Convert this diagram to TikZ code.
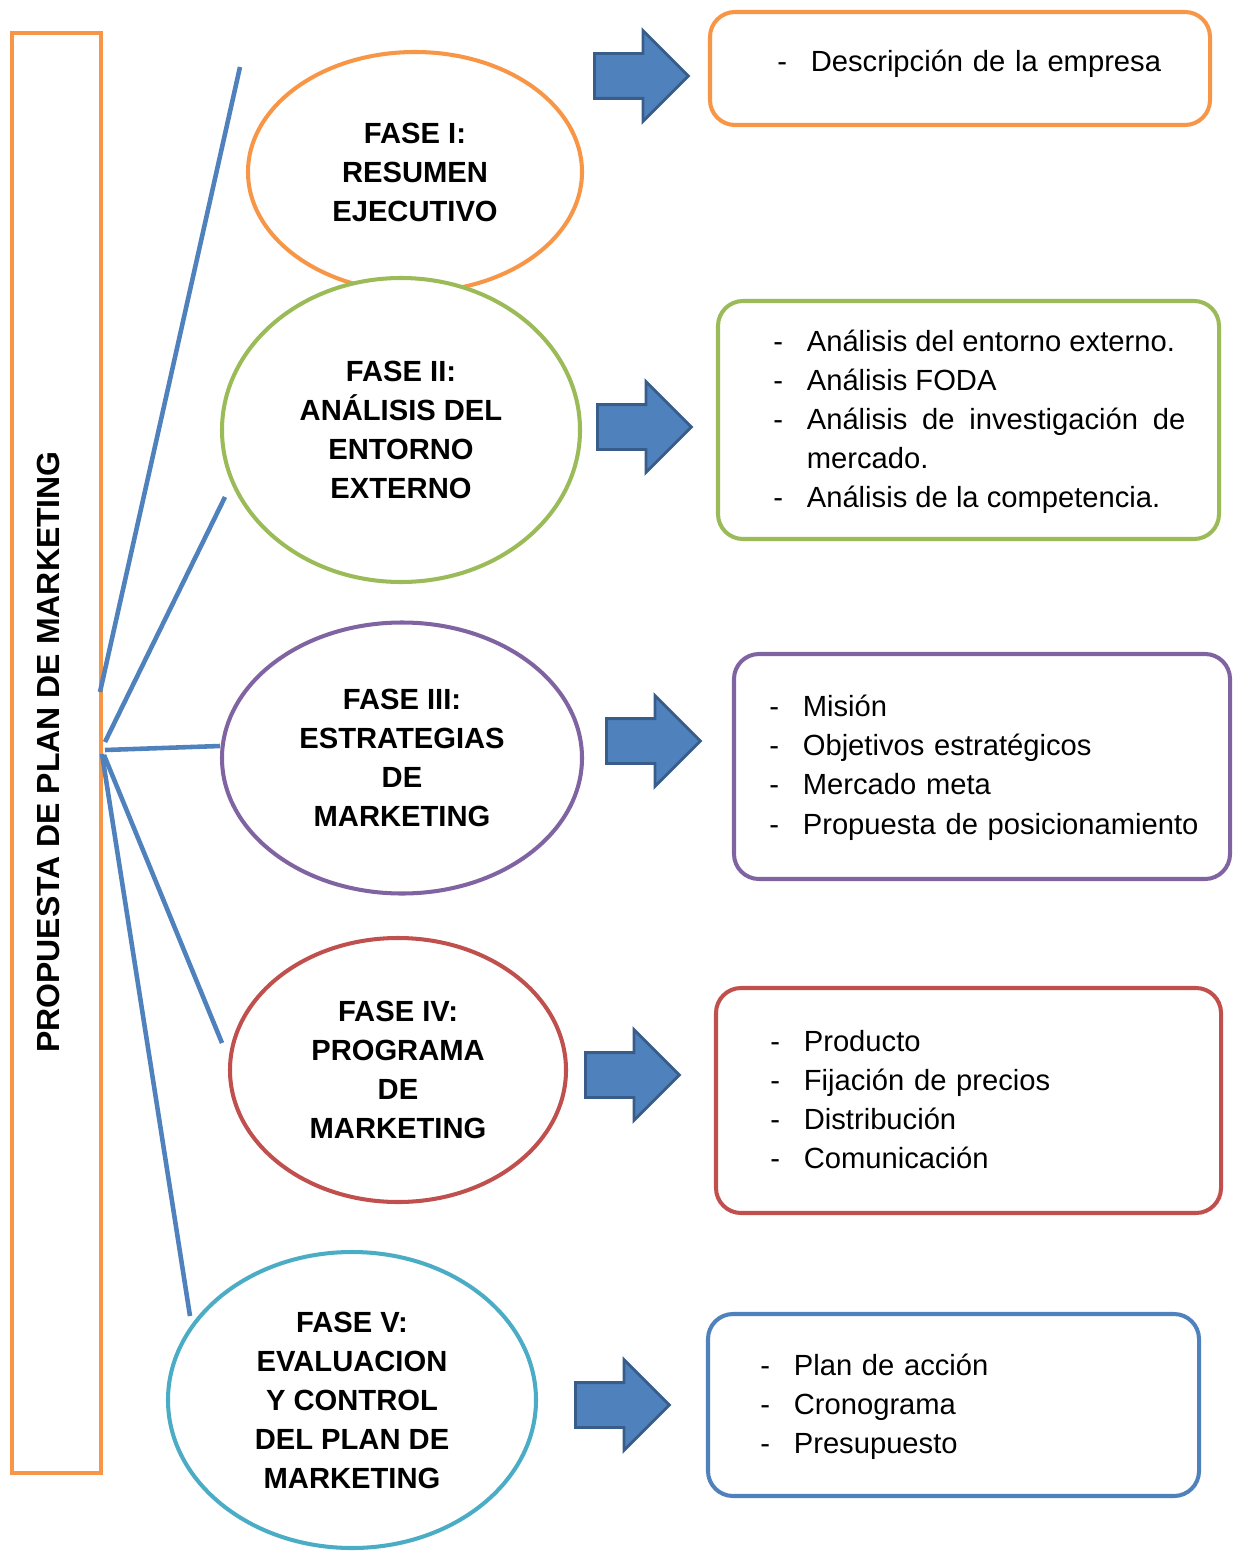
\documentclass[tikz,border=0pt]{standalone}
\usepackage{fontspec}
\setmainfont{Liberation Sans}
\usetikzlibrary{shapes.geometric,shapes.arrows}
\definecolor{naranja}{HTML}{F79646}
\definecolor{verde}{HTML}{9BBB59}
\definecolor{morado}{HTML}{8064A2}
\definecolor{rojo}{HTML}{C0504D}
\definecolor{celeste}{HTML}{4BACC6}
\definecolor{azul}{HTML}{4F81BD}
\definecolor{azulosc}{HTML}{385D8A}
\newcommand{\guion}[1]{\par\noindent\hangindent=6.7mm\hangafter=1\makebox[6.7mm][l]{-}#1}
\tikzset{
  fase/.style   = {ellipse, draw, line width=2.3pt, fill=white, align=center,
                   inner sep=0pt, font=\fontsize{16.6}{22.2}\selectfont\bfseries},
  caja/.style   = {rectangle, rounded corners=5mm, draw, line width=2.3pt, fill=white},
  lista/.style  = {anchor=west, inner sep=0pt, text width=90mm, align=left,
                   font=\fontsize{16.6}{22.2}\selectfont},
  flecha/.style = {single arrow, draw=azulosc, fill=azul, line width=1.6pt,
                   inner sep=4.2mm, minimum height=18.8mm,
                   single arrow head extend=4.6mm, anchor=tail},
  rama/.style   = {draw=azul, line width=2.6pt},
}

\begin{document}
\begin{tikzpicture}[x=0.2mm, y=-0.2mm]
    \useasboundingbox (0,0) rectangle (1235,1551);
    % barra lateral
    \node[draw=naranja, line width=2.3pt, minimum width=17.8mm, minimum height=288mm,
          inner sep=0pt] (barra) at (56.5,753) {};
    \node[rotate=90, font=\fontsize{18.2}{22}\selectfont\bfseries] (titulo) at (48,752)
          {PROPUESTA DE PLAN DE MARKETING};
    % ramas
    \coordinate (p1) at (100,692);  \coordinate (q1) at (240,67);
    \coordinate (p2) at (105,742);  \coordinate (q2) at (225,497);
    \coordinate (p3) at (105,750);  \coordinate (q3) at (220,746);
    \coordinate (p4) at (104,755);  \coordinate (q4) at (222,1043);
    \coordinate (p5) at (102,754);  \coordinate (q5) at (190,1316);
    \draw[rama] (p1) -- (q1);
    \draw[rama] (p2) -- (q2);
    \draw[rama] (p3) -- (q3);
    \draw[rama] (p4) -- (q4);
    \draw[rama] (p5) -- (q5);
    % fases
    \node[fase, draw=naranja, minimum width=66.8mm, minimum height=48mm] (f1) at (415,172)
          {FASE I:\\RESUMEN\\EJECUTIVO};
    \node[fase, draw=verde, minimum width=71.6mm, minimum height=60.8mm] (f2) at (401,430)
          {FASE II:\\ANÁLISIS DEL\\ENTORNO\\EXTERNO};
    \node[fase, draw=morado, minimum width=72mm, minimum height=54.2mm] (f3) at (402,758)
          {FASE III:\\ESTRATEGIAS\\DE\\MARKETING};
    \node[fase, draw=rojo, minimum width=67.2mm, minimum height=52.8mm] (f4) at (398,1070)
          {FASE IV:\\PROGRAMA\\DE\\MARKETING};
    \node[fase, draw=celeste, minimum width=73.6mm, minimum height=59.2mm] (f5) at (352,1400)
          {FASE V:\\EVALUACION\\Y CONTROL\\DEL PLAN DE\\MARKETING};
    % flechas
    \node[flecha] (a1) at (593,76) {};
    \node[flecha] (a2) at (596,427) {};
    \node[flecha] (a3) at (605,741) {};
    \node[flecha] (a4) at (584,1075) {};
    \node[flecha] (a5) at (574,1405) {};
    % cajas
    \node[caja, draw=naranja, minimum width=100mm, minimum height=22.6mm] (c1) at (960,68.5) {};
    \node[caja, draw=verde, minimum width=100.2mm, minimum height=47.6mm] (c2) at (968.5,420) {};
    \node[caja, draw=morado, minimum width=99.2mm, minimum height=45mm] (c3) at (982,766.5) {};
    \node[caja, draw=rojo, minimum width=101mm, minimum height=45mm] (c4) at (968.5,1100.5) {};
    \node[caja, draw=azul, minimum width=98.2mm, minimum height=36.4mm] (c5) at (953.5,1405) {};
    \node[lista] (t1) at (777,55) {\guion{Descripción de la empresa}};
    \node[lista, text width=82.4mm, align=justify] (t2) at (773,413)
          {\guion{Análisis del entorno externo.}
           \guion{Análisis FODA}
           \guion{Análisis de investigación de mercado.}
           \guion{Análisis de la competencia.}};
    \node[lista] (t3) at (769,759)
          {\guion{Misión}
           \guion{Objetivos estratégicos}
           \guion{Mercado meta}
           \guion{Propuesta de posicionamiento}};
    \node[lista] (t4) at (770,1091)
          {\guion{Producto}
           \guion{Fijación de precios}
           \guion{Distribución}
           \guion{Comunicación}};
    \node[lista] (t5) at (760,1398)
          {\guion{Plan de acción}
           \guion{Cronograma}
           \guion{Presupuesto}};
\end{tikzpicture}
\end{document}
